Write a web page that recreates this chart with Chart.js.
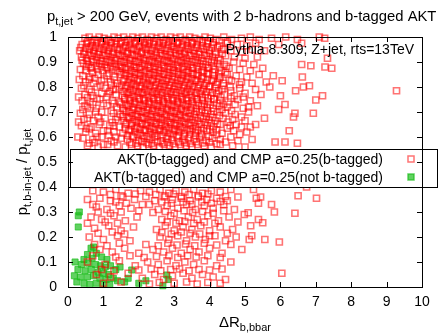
<!DOCTYPE html>
<html>
<head>
<meta charset="utf-8">
<script src="https://cdn.jsdelivr.net/npm/chart.js@4"></script>
<style>
  html, body { margin: 0; padding: 0; background: #fff; }
  #wrap { width: 440px; height: 334px; }
</style>
</head>
<body>
<div id="wrap"><canvas id="plot" width="440" height="334"></canvas></div>
<script>
// ── Datos (ΔR, fracción de pT) ─────────────────────────────────
const X_TICKS = [0, 1, 2, 3, 4, 5, 6, 7, 8, 9, 10];
const Y_TICKS = [0, 0.1, 0.2, 0.3, 0.4, 0.5, 0.6, 0.7, 0.8, 0.9, 1];

const LABEL_TAGGED    = 'AKT(b-tagged) and CMP a=0.25(b-tagged)';
const LABEL_NOTTAGGED = 'AKT(b-tagged) and CMP a=0.25(not b-tagged)';

// zona densa superior
const redTop = [
  [0.48,0.995],[0.6,1.0],[0.75,0.99],[0.88,1.0],[1.02,0.995],[1.15,0.99],[1.3,1.0],[1.42,0.995],[1.57,1.0],[1.7,0.99],
  [1.83,1.0],[1.97,0.995],[2.1,1.0],[2.24,0.99],[2.36,1.0],[2.5,0.995],[2.63,1.0],[2.77,0.99],[2.9,1.0],[3.04,0.995],
  [3.17,1.0],[3.31,0.99],[3.44,1.0],[3.58,0.995],[3.72,0.99],[3.87,1.0],[4.02,0.995],[4.18,0.99],[4.4,1.0],[4.62,0.99],
  [4.9,0.995],[5.15,1.0],[5.4,0.99],[5.75,0.995],[6.15,1.0],[6.48,0.99],[7.1,1.0],[7.25,0.995],
  [0.4,0.97],[0.53,0.975],[0.68,0.965],[0.81,0.975],[0.95,0.97],[1.08,0.965],[1.22,0.975],[1.36,0.97],[1.49,0.975],[1.63,0.965],
  [1.76,0.97],[1.9,0.975],[2.03,0.965],[2.17,0.97],[2.3,0.975],[2.43,0.97],[2.57,0.965],[2.7,0.975],[2.84,0.97],[2.97,0.965],
  [3.1,0.975],[3.24,0.97],[3.38,0.965],[3.51,0.975],[3.65,0.97],[3.8,0.965],[3.95,0.975],[4.1,0.97],[4.28,0.965],[4.5,0.975],
  [4.78,0.97],[5.05,0.965],[5.3,0.975],[5.95,0.97],[6.6,0.975],
  [0.33,0.945],[0.46,0.94],[0.6,0.95],[0.73,0.945],[0.86,0.94],[1.0,0.95],[1.13,0.945],[1.27,0.94],[1.4,0.95],[1.54,0.945],
  [1.67,0.94],[1.8,0.95],[1.94,0.945],[2.07,0.94],[2.2,0.95],[2.34,0.945],[2.47,0.94],[2.61,0.95],[2.74,0.945],[2.88,0.94],
  [3.01,0.95],[3.14,0.945],[3.28,0.94],[3.41,0.95],[3.55,0.945],[3.69,0.94],[3.84,0.95],[3.99,0.945],[4.15,0.94],[4.35,0.95],
  [4.6,0.945],[4.92,0.94],[5.2,0.95],[5.55,0.945],
  [0.38,0.92],[0.52,0.915],[0.66,0.925],[0.8,0.92],[0.93,0.915],[1.06,0.925],[1.2,0.92],[1.33,0.915],[1.47,0.925],[1.6,0.92],
  [1.74,0.915],[1.87,0.925],[2.0,0.92],[2.14,0.915],[2.27,0.925],[2.41,0.92],[2.54,0.915],[2.67,0.925],[2.81,0.92],[2.94,0.915],
  [3.07,0.925],[3.21,0.92],[3.34,0.915],[3.48,0.925],[3.62,0.92],[3.77,0.915],[3.92,0.925],[4.08,0.92],[4.25,0.915],[4.45,0.925],
  [4.7,0.92],[5.0,0.915],[5.35,0.92],[7.33,0.915],
  [0.44,0.895],[0.58,0.89],[0.72,0.9],[0.9,0.895],[1.04,0.89],[1.17,0.9],[1.31,0.895],[1.44,0.89],[1.58,0.9],[1.71,0.895],
  [1.85,0.89],[1.98,0.9],[2.11,0.895],[2.25,0.89],[2.38,0.9],[2.52,0.895],[2.65,0.89],[2.79,0.9],[2.92,0.895],[3.05,0.89],
  [3.19,0.9],[3.32,0.895],[3.46,0.89],[3.6,0.9],[3.74,0.895],[3.89,0.89],[4.05,0.9],[4.22,0.895],[4.42,0.89],[4.68,0.9],
  [4.95,0.895],[5.25,0.89],[6.6,0.89],[6.86,0.885],
  [0.35,0.87],[0.5,0.865],[0.64,0.875],[0.84,0.87],[0.98,0.865],[1.12,0.875],[1.26,0.87],[1.39,0.865],[1.53,0.875],[1.66,0.87],
  [1.79,0.865],[1.93,0.875],[2.06,0.87],[2.2,0.865],[2.33,0.875],[2.46,0.87],[2.6,0.865],[2.73,0.875],[2.87,0.87],[3.0,0.865],
  [3.13,0.875],[3.27,0.87],[3.4,0.865],[3.54,0.875],[3.68,0.87],[3.83,0.865],[3.98,0.875],[4.14,0.87],[4.33,0.865],[4.55,0.875],
  [4.85,0.87],[5.15,0.865],[5.5,0.875],[7.26,0.88],[7.45,0.875],
];

// relleno intercalado de la zona densa superior
const redTopFill = [
  [0.55,0.983],[0.68,0.979],[0.82,0.986],[0.95,0.981],[1.09,0.984],[1.22,0.978],[1.36,0.985],[1.5,0.982],[1.63,0.979],[1.77,0.986],
  [1.9,0.981],[2.04,0.984],[2.17,0.978],[2.3,0.985],[2.43,0.982],[2.57,0.979],[2.7,0.986],[2.84,0.981],[2.97,0.984],[3.1,0.978],
  [3.24,0.985],[3.37,0.982],[3.51,0.979],[3.65,0.986],[3.8,0.981],[3.95,0.984],[4.1,0.978],[4.28,0.985],[4.5,0.982],
  [0.36,0.958],[0.5,0.955],[0.63,0.961],[0.77,0.957],[0.9,0.954],[1.04,0.96],[1.17,0.956],[1.31,0.959],[1.45,0.953],[1.58,0.96],
  [1.72,0.957],[1.85,0.954],[1.99,0.961],[2.12,0.956],[2.26,0.959],[2.39,0.953],[2.53,0.96],[2.66,0.957],[2.8,0.954],[2.93,0.961],
  [3.07,0.956],[3.2,0.959],[3.34,0.953],[3.48,0.96],[3.62,0.957],[3.76,0.954],[3.91,0.961],[4.06,0.956],[4.22,0.959],[4.4,0.953],
  [0.45,0.932],[0.59,0.929],[0.73,0.935],[0.87,0.931],[1.0,0.928],[1.14,0.934],[1.27,0.93],[1.41,0.933],[1.54,0.927],[1.68,0.934],
  [1.81,0.931],[1.95,0.928],[2.08,0.935],[2.22,0.93],[2.35,0.933],[2.49,0.927],[2.62,0.934],[2.76,0.931],[2.89,0.928],[3.03,0.935],
  [3.16,0.93],[3.3,0.933],[3.43,0.927],[3.57,0.934],[3.71,0.931],[3.86,0.928],[4.0,0.935],[4.17,0.93],[4.36,0.933],
  [0.4,0.907],[0.54,0.904],[0.68,0.91],[0.82,0.906],[0.96,0.903],[1.1,0.909],[1.23,0.905],[1.37,0.908],[1.5,0.902],[1.64,0.909],
  [1.77,0.906],[1.91,0.903],[2.04,0.91],[2.18,0.905],[2.31,0.908],[2.45,0.902],[2.58,0.909],[2.72,0.906],[2.85,0.903],[2.99,0.91],
  [3.12,0.905],[3.26,0.908],[3.39,0.902],[3.53,0.909],[3.67,0.906],[3.82,0.903],[3.97,0.91],[4.13,0.905],[4.3,0.908],
  [0.52,0.882],[0.67,0.879],[0.8,0.885],[0.94,0.881],[1.08,0.878],[1.21,0.884],[1.35,0.88],[1.49,0.883],[1.62,0.877],[1.76,0.884],
  [1.89,0.881],[2.02,0.878],[2.16,0.885],[2.29,0.88],[2.43,0.883],[2.56,0.877],[2.7,0.884],[2.83,0.881],[2.97,0.878],[3.1,0.885],
  [3.24,0.88],[3.37,0.883],[3.51,0.877],[3.65,0.884],[3.8,0.881],[3.95,0.878],[4.1,0.885],[4.28,0.88],[4.48,0.883],
  [0.7,0.857],[1.16,0.854],[1.46,0.86],[1.6,0.856],[1.73,0.853],[1.87,0.859],[2.0,0.855],[2.14,0.858],[2.27,0.852],[2.41,0.859],
  [2.54,0.856],[2.68,0.853],[2.81,0.86],[2.95,0.855],[3.08,0.858],[3.22,0.852],[3.35,0.859],[3.49,0.856],[3.63,0.853],[3.78,0.86],
  [3.93,0.855],[4.09,0.858],[4.26,0.852],[4.45,0.859],
];

// zona intermedia (0.55 - 0.85)
const redMid = [
  [0.42,0.845],[0.62,0.84],[0.85,0.85],[1.1,0.845],[1.3,0.84],[1.5,0.85],[1.64,0.845],[1.78,0.84],[1.92,0.85],[2.05,0.845],
  [2.19,0.84],[2.32,0.85],[2.46,0.845],[2.59,0.84],[2.73,0.85],[2.86,0.845],[3.0,0.84],[3.13,0.85],[3.27,0.845],[3.4,0.84],
  [3.54,0.85],[3.68,0.845],[3.82,0.84],[3.97,0.85],[4.13,0.845],[4.3,0.84],[4.5,0.85],[4.75,0.845],[5.05,0.84],[5.4,0.85],
  [5.8,0.845],[6.62,0.84],
  [0.5,0.82],[0.72,0.815],[0.95,0.825],[1.2,0.82],[1.4,0.815],[1.56,0.825],[1.7,0.82],[1.84,0.815],[1.97,0.825],[2.11,0.82],
  [2.24,0.815],[2.38,0.825],[2.51,0.82],[2.65,0.815],[2.78,0.825],[2.92,0.82],[3.05,0.815],[3.19,0.825],[3.32,0.82],[3.46,0.815],
  [3.6,0.825],[3.75,0.82],[3.9,0.815],[4.06,0.825],[4.22,0.82],[4.4,0.815],[4.62,0.825],[4.9,0.82],[5.2,0.815],[5.6,0.82],
  [6.05,0.825],[6.82,0.805],
  [0.38,0.795],[0.6,0.79],[0.82,0.8],[1.05,0.795],[1.27,0.79],[1.46,0.8],[1.62,0.795],[1.76,0.79],[1.9,0.8],[2.03,0.795],
  [2.17,0.79],[2.3,0.8],[2.44,0.795],[2.57,0.79],[2.71,0.8],[2.84,0.795],[2.98,0.79],[3.11,0.8],[3.25,0.795],[3.38,0.79],
  [3.52,0.8],[3.67,0.795],[3.82,0.79],[3.98,0.8],[4.15,0.795],[4.35,0.79],[4.58,0.8],[4.85,0.795],[5.3,0.79],[5.7,0.8],
  [6.43,0.785],[6.65,0.8],[9.28,0.785],
  [0.48,0.77],[0.7,0.765],[1.15,0.775],[1.36,0.77],[1.53,0.765],[1.67,0.775],[1.81,0.77],[1.95,0.765],[2.08,0.775],[2.22,0.77],
  [2.35,0.765],[2.49,0.775],[2.62,0.77],[2.76,0.765],[2.89,0.775],[3.03,0.77],[3.16,0.765],[3.3,0.775],[3.44,0.77],[3.58,0.765],
  [3.73,0.775],[3.88,0.77],[4.04,0.765],[4.2,0.775],[4.42,0.77],[4.7,0.765],[5.0,0.775],[5.45,0.77],[6.0,0.765],[7.19,0.765],
  [0.4,0.745],[0.62,0.74],[0.9,0.75],[1.25,0.745],[1.45,0.74],[1.6,0.75],[1.74,0.745],[1.88,0.74],[2.01,0.75],[2.15,0.745],
  [2.28,0.74],[2.42,0.75],[2.55,0.745],[2.69,0.74],[2.82,0.75],[2.96,0.745],[3.09,0.74],[3.23,0.75],[3.36,0.745],[3.5,0.74],
  [3.65,0.75],[3.8,0.745],[3.96,0.74],[4.12,0.75],[4.3,0.745],[4.52,0.74],[4.8,0.75],[5.15,0.745],[7.0,0.748],
  [0.55,0.72],[0.8,0.715],[1.1,0.725],[1.38,0.72],[1.55,0.715],[1.7,0.725],[1.84,0.72],[1.98,0.715],[2.12,0.725],[2.25,0.72],
  [2.39,0.715],[2.52,0.725],[2.66,0.72],[2.79,0.715],[2.93,0.725],[3.06,0.72],[3.2,0.715],[3.33,0.725],[3.47,0.72],[3.62,0.715],
  [3.77,0.725],[3.93,0.72],[4.1,0.715],[4.28,0.725],[4.5,0.72],[4.95,0.715],[5.35,0.725],[6.13,0.73],[5.95,0.71],
  [0.35,0.695],[0.6,0.69],[0.95,0.7],[1.28,0.695],[1.48,0.69],[1.64,0.7],[1.78,0.695],[1.92,0.69],[2.06,0.7],[2.19,0.695],
  [2.33,0.69],[2.46,0.7],[2.6,0.695],[2.73,0.69],[2.87,0.7],[3.0,0.695],[3.14,0.69],[3.27,0.7],[3.41,0.695],[3.56,0.69],
  [3.71,0.7],[3.87,0.695],[4.03,0.69],[4.22,0.7],[4.45,0.695],[4.72,0.69],[5.1,0.7],[6.41,0.695],[6.93,0.695],
  [0.45,0.67],[0.72,0.665],[1.05,0.675],[1.35,0.67],[1.58,0.665],[1.73,0.675],[1.87,0.67],[2.0,0.665],[2.14,0.675],[2.28,0.67],
  [2.41,0.665],[2.55,0.675],[2.68,0.67],[2.82,0.665],[2.95,0.675],[3.09,0.67],[3.22,0.665],[3.36,0.675],[3.51,0.67],[3.66,0.665],
  [3.82,0.675],[3.98,0.67],[4.16,0.665],[4.38,0.675],[4.65,0.67],[5.0,0.665],[5.55,0.675],[6.37,0.68],
  [0.38,0.645],[0.65,0.64],[0.88,0.65],[1.18,0.645],[1.45,0.64],[1.62,0.65],[1.8,0.645],[1.95,0.64],[2.1,0.65],[2.23,0.645],
  [2.37,0.64],[2.5,0.65],[2.64,0.645],[2.77,0.64],[2.91,0.65],[3.04,0.645],[3.18,0.64],[3.32,0.65],[3.46,0.645],[3.61,0.64],
  [3.76,0.65],[3.93,0.645],[4.1,0.64],[4.3,0.65],[4.58,0.645],[4.9,0.64],[5.3,0.65],
  [0.5,0.62],[0.78,0.615],[1.0,0.625],[1.3,0.62],[1.55,0.615],[1.72,0.625],[1.9,0.62],[2.04,0.615],[2.18,0.625],[2.32,0.62],
  [2.46,0.615],[2.6,0.625],[2.74,0.62],[2.88,0.615],[3.02,0.625],[3.16,0.62],[3.3,0.615],[3.45,0.625],[3.6,0.62],[3.76,0.615],
  [3.92,0.625],[4.1,0.62],[4.35,0.615],[4.68,0.625],[5.05,0.62],[6.25,0.625],
  [0.42,0.595],[0.7,0.59],[0.95,0.6],[1.22,0.585],[1.5,0.595],[1.68,0.59],[1.85,0.6],[2.0,0.585],[2.15,0.595],[2.3,0.59],
  [2.45,0.6],[2.62,0.585],[2.78,0.595],[2.93,0.59],[3.08,0.6],[3.25,0.585],[3.4,0.595],[3.56,0.59],[3.72,0.6],[3.9,0.585],
  [4.08,0.595],[4.3,0.59],[4.6,0.6],[5.2,0.59],[5.85,0.58],[6.13,0.58],[6.48,0.575],
  [0.55,0.565],[0.85,0.56],[1.12,0.57],[1.4,0.565],[1.62,0.56],[1.8,0.57],[1.97,0.565],[2.12,0.56],[2.28,0.57],[2.42,0.565],
  [2.58,0.56],[2.72,0.57],[2.87,0.565],[3.02,0.56],[3.18,0.57],[3.34,0.565],[3.5,0.56],[3.67,0.57],[3.85,0.565],[4.05,0.56],
  [4.3,0.57],[4.65,0.565],[5.0,0.56],
];

// relleno intercalado de la zona intermedia
const redMidFill = [
  [1.6,0.832],[1.74,0.829],[1.87,0.835],[2.01,0.831],[2.14,0.828],[2.28,0.834],[2.41,0.83],[2.55,0.833],[2.68,0.827],[2.82,0.834],
  [2.95,0.831],[3.09,0.828],[3.22,0.835],[3.36,0.83],[3.5,0.833],[3.64,0.827],[3.78,0.834],[3.94,0.831],[4.1,0.828],[4.27,0.835],
  [0.6,0.83],[1.32,0.828],
  [1.52,0.807],[1.66,0.804],[1.79,0.81],[1.93,0.806],[2.06,0.803],[2.2,0.809],[2.33,0.805],[2.47,0.808],[2.6,0.802],[2.74,0.809],
  [2.87,0.806],[3.01,0.803],[3.14,0.81],[3.28,0.805],[3.42,0.808],[3.56,0.802],[3.7,0.809],[3.85,0.806],[4.01,0.803],[4.18,0.81],
  [4.38,0.805],[0.92,0.806],
  [1.58,0.782],[1.72,0.779],[1.85,0.785],[1.99,0.781],[2.12,0.778],[2.26,0.784],[2.39,0.78],[2.53,0.783],[2.66,0.777],[2.8,0.784],
  [2.93,0.781],[3.07,0.778],[3.2,0.785],[3.34,0.78],[3.48,0.783],[3.62,0.777],[3.77,0.784],[3.92,0.781],[4.08,0.778],[4.26,0.785],
  [1.18,0.782],
  [1.6,0.757],[1.74,0.754],[1.87,0.76],[2.01,0.756],[2.14,0.753],[2.28,0.759],[2.41,0.755],[2.55,0.758],[2.68,0.752],[2.82,0.759],
  [2.95,0.756],[3.09,0.753],[3.22,0.76],[3.36,0.755],[3.5,0.758],[3.64,0.752],[3.79,0.759],[3.95,0.756],[4.12,0.753],[4.32,0.76],
  [0.55,0.757],
  [1.5,0.732],[1.64,0.729],[1.77,0.735],[1.91,0.731],[2.04,0.728],[2.18,0.734],[2.31,0.73],[2.45,0.733],[2.58,0.727],[2.72,0.734],
  [2.85,0.731],[2.99,0.728],[3.12,0.735],[3.26,0.73],[3.4,0.733],[3.54,0.727],[3.69,0.734],[3.85,0.731],[4.01,0.728],[4.2,0.735],
  [4.4,0.73],[1.0,0.733],
  [1.58,0.707],[1.72,0.704],[1.85,0.71],[1.99,0.706],[2.12,0.703],[2.26,0.709],[2.39,0.705],[2.53,0.708],[2.66,0.702],[2.8,0.709],
  [2.93,0.706],[3.07,0.703],[3.2,0.71],[3.34,0.705],[3.48,0.708],[3.63,0.702],[3.78,0.709],[3.94,0.706],[4.12,0.703],[4.35,0.71],
  [0.42,0.71],
  [1.55,0.682],[1.69,0.679],[1.82,0.685],[1.96,0.681],[2.09,0.678],[2.23,0.684],[2.36,0.68],[2.5,0.683],[2.63,0.677],[2.77,0.684],
  [2.9,0.681],[3.04,0.678],[3.17,0.685],[3.31,0.68],[3.45,0.683],[3.6,0.677],[3.75,0.684],[3.91,0.681],[4.08,0.678],[4.28,0.685],
  [0.85,0.68],
  [1.66,0.657],[1.8,0.654],[1.93,0.66],[2.07,0.656],[2.2,0.653],[2.34,0.659],[2.47,0.655],[2.61,0.658],[2.74,0.652],[2.88,0.659],
  [3.01,0.656],[3.15,0.653],[3.28,0.66],[3.42,0.655],[3.56,0.658],[3.71,0.652],[3.87,0.659],[4.04,0.656],[4.22,0.653],[1.25,0.658],
  [1.62,0.632],[1.76,0.629],[1.89,0.635],[2.03,0.631],[2.16,0.628],[2.3,0.634],[2.43,0.63],[2.57,0.633],[2.7,0.627],[2.84,0.634],
  [2.97,0.631],[3.11,0.628],[3.24,0.635],[3.38,0.63],[3.52,0.633],[3.67,0.627],[3.83,0.634],[4.0,0.631],[4.2,0.628],[0.6,0.632],
  [1.68,0.607],[1.82,0.604],[1.96,0.61],[2.1,0.606],[2.24,0.603],[2.38,0.609],[2.52,0.605],[2.67,0.608],[2.82,0.602],[2.97,0.609],
  [3.12,0.606],[3.28,0.603],[3.44,0.61],[3.6,0.605],[3.78,0.608],[3.98,0.602],[4.2,0.609],[1.15,0.606],
  [1.75,0.578],[1.92,0.575],[2.08,0.581],[2.22,0.577],[2.37,0.574],[2.52,0.58],[2.67,0.576],[2.82,0.579],[2.97,0.573],[3.13,0.58],
  [3.3,0.577],[3.46,0.574],[3.62,0.581],[3.8,0.576],[4.0,0.579],[4.2,0.573],[0.75,0.578],
];

// borde izquierdo y borde derecho de la zona intermedia
const redMidEdges = [
  [0.32,0.83],[0.75,0.835],[1.02,0.832],[1.22,0.808],[0.45,0.805],[0.66,0.78],[0.95,0.775],[1.35,0.79],[0.3,0.76],[0.82,0.755],
  [1.1,0.76],[1.3,0.735],[0.48,0.725],[0.7,0.73],[1.22,0.705],[0.78,0.7],[1.4,0.68],[0.55,0.675],[0.3,0.66],[0.92,0.66],
  [1.3,0.645],[0.52,0.635],[1.12,0.625],[0.82,0.6],[1.35,0.6],[0.28,0.6],[0.6,0.575],[1.0,0.57],[1.3,0.58],
  [4.55,0.83],[4.85,0.81],[4.6,0.785],[4.95,0.76],[4.6,0.755],[4.72,0.73],[5.1,0.72],[4.62,0.705],[4.9,0.68],[4.52,0.66],
  [4.75,0.65],[5.15,0.64],[4.5,0.635],[4.85,0.61],[4.45,0.58],[4.8,0.585],
];

// zona inferior (bajo la leyenda)
const redLow = [
  [0.7,0.385],[1.0,0.38],[1.35,0.39],[1.7,0.375],[2.05,0.385],[2.3,0.38],[2.6,0.39],[2.85,0.375],[3.05,0.385],[3.3,0.38],
  [3.55,0.39],[3.8,0.375],[4.05,0.385],[4.3,0.38],[4.6,0.39],[5.24,0.39],[6.74,0.4],
  [0.55,0.35],[0.9,0.355],[1.2,0.345],[1.55,0.36],[1.88,0.35],[2.45,0.345],[2.72,0.36],[2.95,0.35],[3.2,0.355],[3.45,0.345],
  [3.68,0.36],[3.92,0.35],[4.2,0.355],[4.5,0.345],[4.8,0.36],[5.32,0.355],[5.44,0.36],[6.5,0.365],[7.02,0.355],
  [0.8,0.32],[1.1,0.31],[1.45,0.325],[1.78,0.315],[2.1,0.33],[2.55,0.31],[2.8,0.325],[3.1,0.315],[3.35,0.33],[3.6,0.31],
  [3.85,0.325],[4.1,0.315],[4.4,0.33],[4.7,0.31],[5.38,0.335],[5.75,0.33],[5.83,0.3],
  [0.65,0.28],[0.95,0.27],[1.3,0.285],[1.62,0.265],[1.95,0.28],[2.65,0.27],[2.9,0.285],[3.15,0.265],[3.4,0.28],[3.65,0.27],
  [3.95,0.285],[4.25,0.265],[4.55,0.28],[4.98,0.29],[5.09,0.297],[5.38,0.27],[5.5,0.257],[6.41,0.295],
  [0.75,0.235],[1.15,0.245],[1.5,0.225],[1.85,0.24],[2.5,0.23],[2.75,0.245],[3.0,0.225],[3.25,0.24],[3.5,0.23],[3.75,0.245],
  [4.0,0.225],[4.3,0.24],[4.65,0.23],[5.16,0.245],
  [0.6,0.2],[1.0,0.19],[1.4,0.205],[1.75,0.185],[2.6,0.2],[2.85,0.19],[3.1,0.205],[3.35,0.185],[3.6,0.2],[3.88,0.19],
  [4.15,0.205],[4.45,0.185],[4.75,0.2],[5.19,0.205],[5.12,0.19],[5.56,0.19],[5.97,0.18],
  [0.9,0.15],[1.25,0.14],[1.6,0.155],[2.0,0.135],[2.4,0.15],[2.7,0.14],[2.95,0.155],[3.2,0.135],[3.45,0.15],[3.7,0.14],
  [4.0,0.155],[4.35,0.135],[4.91,0.15],
  [0.55,0.1],[1.05,0.09],[1.45,0.105],[1.9,0.085],[2.25,0.1],[2.55,0.09],[2.8,0.105],[3.05,0.085],[3.3,0.1],[3.55,0.09],
  [3.85,0.105],[4.2,0.085],[4.6,0.1],
  [0.8,0.05],[1.2,0.04],[1.7,0.055],[2.1,0.035],[2.45,0.05],[2.7,0.03],[2.95,0.045],[3.25,0.055],[3.5,0.035],[3.8,0.05],
  [4.1,0.04],[4.45,0.03],[6.04,0.055],
  [1.2,0.37],[1.5,0.365],[1.9,0.372],[2.2,0.362],[2.48,0.37],[2.75,0.365],[2.98,0.372],[3.2,0.362],[3.42,0.37],[3.68,0.365],
  [3.95,0.372],[4.45,0.362],
  [0.7,0.33],[1.35,0.34],[1.65,0.335],[2.3,0.33],[2.65,0.34],[2.92,0.335],[3.25,0.34],[3.5,0.33],[3.78,0.34],[4.05,0.335],[4.3,0.342],
  [0.85,0.3],[1.2,0.295],[1.5,0.3],[2.0,0.305],[2.4,0.298],[2.75,0.302],[3.0,0.295],[3.28,0.305],[3.52,0.298],[3.8,0.302],
  [4.1,0.295],[4.4,0.305],
  [0.55,0.255],[1.05,0.26],[1.4,0.255],[2.8,0.26],[3.05,0.255],[3.3,0.262],[3.55,0.255],[3.85,0.26],[4.15,0.255],[4.8,0.26],
  [0.85,0.215],[1.25,0.22],[1.6,0.212],[2.65,0.218],[2.92,0.212],[3.2,0.22],[3.45,0.215],[3.72,0.212],[4.0,0.205],[4.5,0.215],
  [0.75,0.17],[1.1,0.165],[1.45,0.175],[2.2,0.17],[2.55,0.165],[2.82,0.175],[3.08,0.168],[3.32,0.172],[3.58,0.165],[3.85,0.175],
  [4.2,0.168],[4.6,0.17],
  [0.7,0.125],[1.35,0.12],[1.75,0.125],[2.15,0.118],[2.5,0.122],[2.85,0.125],[3.1,0.118],[3.38,0.125],[3.62,0.12],[3.95,0.125],
  [4.3,0.118],
  [0.95,0.07],[1.3,0.065],[2.0,0.068],[2.35,0.072],[2.62,0.065],[2.9,0.07],[3.15,0.072],[3.42,0.065],[3.7,0.07],[4.0,0.068],
  [4.35,0.072],
  [1.0,0.015],[1.5,0.02],[2.3,0.012],[2.58,0.018],[3.0,0.015],[3.35,0.02],[3.65,0.012],[3.95,0.018],[4.3,0.015],
];

// jets no b-tagged por CMP
const green = [
  [0.32,0.3],[0.29,0.285],[0.29,0.24],[0.72,0.16],[0.65,0.155],[0.55,0.13],[0.8,0.135],[0.95,0.12],[0.45,0.11],[0.68,0.115],
  [1.1,0.11],[0.2,0.1],[0.38,0.09],[0.58,0.095],[0.78,0.09],[0.92,0.085],[1.05,0.08],[1.2,0.085],[1.35,0.07],[0.28,0.07],
  [0.48,0.065],[0.66,0.07],[0.85,0.06],[1.0,0.055],[1.15,0.05],[0.18,0.045],[0.35,0.04],[0.55,0.04],[0.72,0.045],[0.9,0.035],
  [1.08,0.03],[1.28,0.035],[0.45,0.015],[0.62,0.01],[0.8,0.015],[0.98,0.01],[1.18,0.01],[0.25,0.02],[1.47,0.08],[1.8,0.068],
  [1.6,0.02],[1.7,0.035],[2.2,0.025],[2.0,0.015],[2.79,0.048],[2.83,0.03],[2.68,0.005],[1.4,0.025],
];

// ── Estilo ────────────────────────────────────────────────────
const FONT = '"Liberation Sans", Arial, Helvetica, sans-serif';
const RED   = 'rgba(255,0,0,0.55)';
const GREEN = 'rgba(30,190,30,0.7)';

const toXY = arr => arr.map(([x, y]) => ({ x, y }));

// texto con subíndices: partes = [[texto, esSub], ...]
function drawParts(ctx, x, y, parts, size, align) {
    const sub = Math.round(size * 0.72);
    let w = 0;
    parts.forEach(([t, s]) => {
        ctx.font = (s ? sub : size) + 'px ' + FONT;
        w += ctx.measureText(t).width;
    });
    let cx = align === 'center' ? x - w / 2 : align === 'right' ? x - w : x;
    ctx.textAlign = 'left';
    ctx.textBaseline = 'alphabetic';
    parts.forEach(([t, s]) => {
        ctx.font = (s ? sub : size) + 'px ' + FONT;
        ctx.fillText(t, cx, s ? y + size * 0.28 : y);
        cx += ctx.measureText(t).width;
    });
}

const decor = {
    id: 'decor',
    afterDatasetsDraw(chart) {
        const { ctx, chartArea: a, scales: { x, y } } = chart;
        ctx.save();
        ctx.fillStyle = '#000';

        // etiqueta Pythia
        ctx.font = '14px ' + FONT;
        ctx.textAlign = 'right';
        ctx.textBaseline = 'alphabetic';
        ctx.fillText('Pythia 8.309; Z+jet, rts=13TeV', 414, 54);

        // leyenda opaca
        ctx.fillStyle = '#fff';
        ctx.fillRect(70.5, 149.5, 367, 38);
        ctx.strokeStyle = '#000';
        ctx.lineWidth = 1;
        ctx.strokeRect(70.5, 149.5, 367, 38);
        ctx.fillStyle = '#000';
        ctx.font = '14px ' + FONT;
        ctx.fillText(LABEL_TAGGED, 383, 164);
        ctx.fillText(LABEL_NOTTAGGED, 383, 182);
        ctx.lineWidth = 1.5;
        ctx.strokeStyle = RED;
        ctx.strokeRect(408, 156, 6, 6);
        ctx.fillStyle = GREEN;
        ctx.fillRect(408, 174, 6, 6);
        ctx.strokeStyle = GREEN;
        ctx.strokeRect(408, 174, 6, 6);

        // marco y marcas interiores
        ctx.strokeStyle = '#000';
        ctx.lineWidth = 1;
        ctx.strokeRect(a.left + 0.5, a.top + 0.5, a.right - a.left, a.bottom - a.top);
        ctx.beginPath();
        X_TICKS.forEach(v => {
            const px = Math.round(x.getPixelForValue(v)) + 0.5;
            ctx.moveTo(px, a.bottom); ctx.lineTo(px, a.bottom - 5);
            ctx.moveTo(px, a.top); ctx.lineTo(px, a.top + 5);
        });
        Y_TICKS.forEach(v => {
            const py = Math.round(y.getPixelForValue(v)) + 0.5;
            ctx.moveTo(a.left, py); ctx.lineTo(a.left + 5, py);
            ctx.moveTo(a.right, py); ctx.lineTo(a.right - 5, py);
        });
        ctx.stroke();

        // título
        ctx.fillStyle = '#000';
        drawParts(ctx, 47, 21, [['p', false], ['t,jet', true], [' > 200 GeV, events with 2 b-hadrons and b-tagged AKT', false]], 14.8, 'left');

        // título eje x
        drawParts(ctx, 245, 327, [['ΔR', false], ['b,bbar', true]], 15, 'center');

        // título eje y (rotado)
        ctx.translate(27, 172);
        ctx.rotate(-Math.PI / 2);
        drawParts(ctx, 0, 0, [['p', false], ['t,b-in-jet', true], [' / p', false], ['t,jet', true]], 15, 'center');
        ctx.restore();
    },
};

new Chart(document.getElementById('plot'), {
    type: 'scatter',
    data: {
        datasets: [
            {
                label: LABEL_TAGGED,
                data: toXY([...redTop, ...redTopFill, ...redMid, ...redMidFill, ...redMidEdges, ...redLow]),
                pointStyle: 'rect',
                pointRadius: 4.3,
                pointBorderWidth: 1.6,
                borderColor: RED,
                backgroundColor: 'rgba(0,0,0,0)',
                clip: false,
            },
            {
                label: LABEL_NOTTAGGED,
                data: toXY(green),
                pointStyle: 'rect',
                pointRadius: 4.3,
                pointBorderWidth: 1,
                borderColor: GREEN,
                backgroundColor: GREEN,
                clip: false,
            },
        ],
    },
    options: {
        responsive: false,
        animation: false,
        devicePixelRatio: 1,
        layout: { padding: { top: 37, right: 18, left: 0, bottom: 0 } },
        plugins: { legend: { display: false }, tooltip: { enabled: false }, title: { display: false } },
        scales: {
            x: {
                type: 'linear', min: 0, max: 10,
                afterBuildTicks: s => { s.ticks = X_TICKS.map(v => ({ value: v })); },
                ticks: { color: '#000', font: { family: FONT, size: 14 }, padding: 7, maxRotation: 0, autoSkip: false },
                grid: { display: false, drawTicks: false },
                border: { display: false },
                afterFit: s => { s.height = 47; },
            },
            y: {
                type: 'linear', min: 0, max: 1,
                afterBuildTicks: s => { s.ticks = Y_TICKS.map(v => ({ value: v })); },
                ticks: { color: '#000', font: { family: FONT, size: 14 }, padding: 11, autoSkip: false,
                         callback: v => String(Math.round(v * 10) / 10) },
                grid: { display: false, drawTicks: false },
                border: { display: false },
                afterFit: s => { s.width = 68; },
            },
        },
    },
    plugins: [decor],
});
</script>
</body>
</html>
